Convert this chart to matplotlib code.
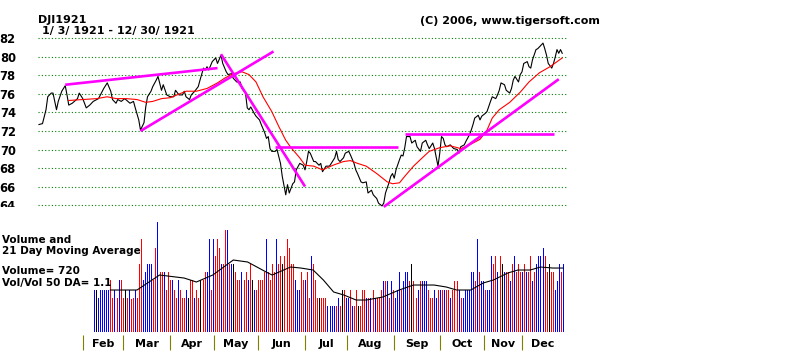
import matplotlib
matplotlib.use("Agg")
import matplotlib.pyplot as plt
from matplotlib.patches import Rectangle

# DJI 1921 daily close, sampled (trading day index, price)
days = [0, 2, 4, 5, 7, 8, 10, 11, 13, 15, 16, 17, 19, 22, 23, 25, 27, 29, 31, 34,
        37, 39, 41, 42, 44, 45, 47, 49, 52, 54, 55, 57, 58, 60, 61, 62, 64, 65, 67, 68,
        70, 71, 73, 75, 77, 78, 80, 82, 83, 84, 86, 87, 89, 91, 92, 94, 95, 96, 97, 99,
        101, 102, 104, 105, 107, 108, 110, 111, 113, 115, 116, 118, 119, 120, 121, 123, 124, 126, 127, 129,
        130, 131, 132, 133, 135, 136, 138, 139, 141, 142, 143, 145, 146, 147, 149, 151, 152, 153, 154, 155,
        157, 158, 160, 161, 162, 164, 166, 167, 169, 170, 171, 172, 174, 175, 177, 178, 180, 181, 182, 184,
        185, 187, 188, 190, 191, 193, 194, 196, 197, 198, 200, 201, 202, 203, 204, 206, 207, 208, 209, 210,
        212, 213, 215, 216, 218, 219, 221, 222, 223, 225, 226, 228, 229, 230, 231, 232, 233, 235, 237, 239,
        240, 241, 243, 244, 246, 247, 248, 249, 251, 252, 253, 255, 256, 258, 259, 261, 262, 263, 264, 266,
        267, 269, 270, 271, 272, 274, 275, 276, 277, 279, 280, 281, 282, 284, 285, 287, 288, 289, 290, 291,
        293, 294, 295, 296, 297, 298, 299]
price = [72.7, 72.8, 74.3, 75.7, 76.1, 76.1, 74.3, 75.2, 76.3, 76.9, 75.9, 74.8, 75.0, 75.5, 76.1, 75.5, 74.5, 74.8, 75.2, 75.5,
         76.6, 77.2, 76.3, 75.4, 75.0, 75.4, 75.2, 75.5, 75.0, 75.2, 74.5, 73.2, 72.1, 72.9, 74.6, 75.7, 76.3, 76.8, 77.5, 77.9,
         76.4, 77.0, 75.9, 75.7, 75.7, 76.4, 75.9, 75.9, 76.3, 75.7, 75.4, 75.9, 76.3, 76.8, 77.5, 78.8, 78.6, 78.95, 78.6, 79.5,
         79.9, 79.3, 80.2, 79.3, 78.4, 78.1, 78.2, 77.7, 77.3, 77.3, 76.6, 76.1, 74.5, 74.3, 74.6, 73.9, 73.6, 73.2, 72.7, 71.8,
         71.2, 71.4, 70.1, 69.8, 69.8, 70.0, 68.5, 67.1, 65.1, 66.2, 65.3, 66.3, 66.5, 67.8, 68.5, 68.3, 67.8, 68.7, 69.8, 69.6,
         68.7, 68.7, 68.3, 68.5, 67.6, 68.2, 68.2, 68.5, 69.1, 69.8, 68.9, 68.7, 69.1, 69.6, 69.8, 69.4, 68.5, 67.8, 67.4, 66.5,
         66.4, 66.5, 65.3, 65.6, 65.1, 64.7, 64.2, 63.9, 64.2, 65.3, 66.4, 67.1, 67.4, 66.9, 67.8, 68.9, 69.4, 69.3, 70.2, 71.4,
         71.4, 70.7, 71.0, 70.3, 69.8, 70.7, 71.0, 70.5, 70.1, 70.7, 70.1, 68.2, 69.6, 71.4, 71.2, 70.5, 70.3, 70.5, 70.1, 70.0,
         69.6, 70.3, 70.5, 70.9, 71.6, 72.1, 72.7, 73.4, 73.7, 73.2, 73.6, 73.9, 74.1, 75.2, 75.7, 75.5, 75.9, 76.4, 77.2, 77.0,
         76.4, 76.1, 76.6, 77.5, 77.9, 77.3, 78.1, 78.4, 79.3, 79.5, 78.95, 78.8, 79.7, 80.8, 80.9, 81.3, 81.5, 80.9, 80.2, 79.3,
         78.8, 79.3, 80.0, 80.8, 80.4, 80.8, 80.4]

# red moving average
ma_days = [17, 25, 33, 39, 44, 50, 56, 61, 65, 70, 75, 84, 90, 96, 102, 106, 111, 116, 120, 124,
           128, 133, 137, 141, 144, 149, 152, 157, 162, 168, 174, 178, 182, 187, 193, 199, 202, 206, 209, 214,
           219, 223, 229, 235, 241, 246, 252, 256, 259, 263, 269, 275, 280, 286, 292, 299]
ma_vals = [75.3, 75.4, 75.5, 75.7, 75.5, 75.5, 75.4, 75.1, 75.2, 75.5, 75.6, 76.3, 76.3, 76.6, 77.2, 77.7, 78.2, 78.4, 78.1, 77.3,
           75.7, 74.1, 72.5, 71.0, 70.2, 69.1, 68.3, 68.2, 67.8, 68.3, 68.7, 68.8, 68.5, 68.2, 67.4, 66.5, 66.3, 66.4, 67.1, 68.2,
           69.1, 69.8, 70.2, 70.4, 70.1, 70.5, 71.1, 72.1, 73.4, 74.3, 75.1, 76.2, 77.3, 78.3, 78.95, 79.9]

# magenta trend lines: (day0, price0, day1, price1)
trend_lines = [
    (15, 77.0, 102, 78.8),
    (58, 72.0, 134, 80.6),
    (104, 80.3, 152, 66.0),
    (135, 70.25, 205, 70.25),
    (209, 71.65, 294, 71.65),
    (197, 63.8, 297, 77.6),
]

price_ticks = [64, 66, 68, 70, 72, 74, 76, 78, 80, 82]

months = ["Feb", "Mar", "Apr", "May", "Jun", "Jul", "Aug", "Sep", "Oct", "Nov", "Dec"]
month_start = [25, 48, 75, 100, 125, 152, 176, 203, 229, 254, 276]
last_day = 300

# volume bars, rows of ten (b = up day, r = down day, k = unchanged)
vol_color = ("bkbbbbbbrr" "brbrrkrbrr" "brrrbbbbbr" "rbrrbrrrbr" "rbrrrbkrrb"
             "rrkrrbbrbr" "rrbrrbrbkr" "rrbrrbrkbr" "rrrrbrrrrb" "rrkrrrrrbb"
             "brrbrrbrrr" "krrrbbbbrb" "rkrbbrbrrk" "rrrbrbrbrr" "rbrbrbrbbb"
             "rbbbrkrrbr" "bbbrrrbbrb" "rbrrbrrrbr" "bbbbbbrbrb" "brbbbrrbrk"
             "brrbrbrrrb" "rbrrbrbbbb" "rrkrrbbbrb")
volume = [450, 445, 365, 450, 450, 450, 450, 450, 550, 365,
          450, 365, 550, 550, 365, 445, 365, 445, 345, 365,
          450, 365, 725, 990, 550, 640, 725, 725, 725, 550,
          890, 1170, 640, 640, 640, 445, 640, 550, 550, 445,
          365, 550, 445, 365, 365, 445, 365, 550, 550, 365,
          445, 365, 550, 550, 640, 640, 990, 445, 990, 805,
          990, 890, 725, 725, 1080, 1080, 725, 725, 725, 640,
          550, 550, 640, 550, 640, 550, 725, 550, 445, 445,
          550, 550, 550, 640, 990, 640, 550, 725, 640, 990,
          725, 805, 725, 805, 990, 890, 725, 725, 550, 450,
          450, 640, 550, 550, 640, 365, 805, 725, 550, 365,
          365, 365, 365, 365, 280, 280, 280, 280, 280, 365,
          280, 445, 445, 365, 365, 445, 280, 280, 445, 280,
          280, 445, 445, 365, 365, 365, 445, 365, 365, 365,
          445, 545, 545, 545, 365, 545, 445, 365, 445, 640,
          445, 545, 640, 640, 545, 725, 545, 365, 445, 545,
          545, 545, 545, 445, 365, 365, 445, 365, 445, 445,
          445, 445, 445, 445, 365, 445, 545, 545, 445, 365,
          365, 445, 445, 445, 640, 640, 545, 990, 640, 545,
          545, 445, 445, 445, 805, 725, 805, 640, 805, 725,
          640, 640, 640, 545, 725, 805, 640, 725, 640, 640,
          725, 640, 640, 805, 545, 640, 725, 805, 805, 890,
          805, 640, 720, 640, 640, 445, 545, 720, 640, 720]

# 21 day moving average of volume (bar index, value)
vma_idx = [8, 21, 32, 44, 50, 58, 68, 75, 85, 87, 96, 101, 107, 112, 117, 122, 128, 133, 141, 149,
           156, 166, 172, 177, 184, 190, 195, 202, 207, 213, 218, 224, 229]
vma_vals = [445, 445, 604, 572, 530, 604, 763, 742, 625, 604, 689, 678, 657, 551, 424, 392, 339, 339, 371, 445,
            498, 498, 477, 445, 445, 519, 551, 625, 657, 657, 689, 678, 678]

W, H = 800, 354
FONT = "DejaVu Sans"
fig = plt.figure(figsize=(W / 100, H / 100), dpi=100)
fig.patch.set_facecolor("white")


def px_axes(x0, y0, x1, y1):
    a = fig.add_axes([x0 / W, 1 - y1 / H, (x1 - x0) / W, (y1 - y0) / H])
    a.set_facecolor("none")
    for s in a.spines.values():
        s.set_visible(False)
    return a


def px_text(x, y, s, **kw):
    fig.text(x / W, 1 - y / H, s, family=FONT, fontweight="bold", va="center", **kw)


# price panel: px 38..568 horizontally, 30..215 vertically
day_px = 1.75
ax = px_axes(38, 30, 568, 215)
ax.set_xlim(-1 / day_px, (568 - 39) / day_px)
ax.set_ylim(64 - 10 / 9.26, 82 + 8.5 / 9.26)
for t in price_ticks:
    ax.axhline(t, color="#008000", lw=0.8, ls=(0, (1, 2)), zorder=1)
ax.set_xticks([])
ax.set_yticks(price_ticks)
ax.set_yticklabels([str(t) for t in price_ticks], family=FONT, fontweight="bold", fontsize=8.3)
ax.tick_params(axis="y", length=0, pad=16)
ax.plot(days, price, color="black", lw=0.8, zorder=3)
ax.plot(ma_days, ma_vals, color="red", lw=0.8, zorder=3)
for d0, p0, d1, p1 in trend_lines:
    ax.plot([d0, d1], [p0, p1], color="#ff00ff", lw=1.9, zorder=4, solid_capstyle="butt")

# the lowest price label is cut off by the volume panel in the original
fig.patches.append(Rectangle((0, 1 - 216 / H), 36 / W, 9 / H, transform=fig.transFigure,
                             facecolor="white", edgecolor="none", zorder=10))

# volume panel: px 38..568, 215..332
n = len(volume)
bar_px = (563 - 94) / (n - 1)
vx = px_axes(38, 215, 568, 332)
vx.set_xlim(-(94 - 38) / bar_px, (n - 1) + 5 / bar_px)
vx.set_ylim(0, 117 * 10.6)
vx.set_xticks([])
vx.set_yticks([])
cmap = {"b": "#0000ff", "r": "#ff0000", "k": "#000000"}
vx.vlines(range(n), 0, volume, colors=[cmap[c] for c in vol_color[:n]], lw=0.72,
          antialiased=False)
vx.plot(vma_idx, vma_vals, color="black", lw=0.8)

# month axis
mx = px_axes(38, 332, 568, 354)
mx.set_xlim(-1 / day_px, (568 - 39) / day_px)
mx.set_ylim(354, 332)
mx.set_xticks([])
mx.set_yticks([])
for m in month_start:
    mx.vlines(m, 335, 350, color="#808000", lw=0.8)
bounds = month_start + [last_day]
for k, name in enumerate(months):
    mx.text((bounds[k] + bounds[k + 1]) / 2, 344, name, ha="center", va="center",
            family=FONT, fontweight="bold", fontsize=8)

# header and volume captions
px_text(38, 20, "DJI1921", fontsize=8)
px_text(42, 31, "1/ 3/ 1921 - 12/ 30/ 1921", fontsize=8)
px_text(420, 21, "(C) 2006, www.tigersoft.com", fontsize=8)
px_text(2, 240, "Volume and", fontsize=7.5)
px_text(2, 251, "21 Day Moving Average", fontsize=7.5)
px_text(2, 271, "Volume= 720", fontsize=7.5)
px_text(2, 283, "Vol/Vol 50 DA= 1.1", fontsize=7.5)

fig.savefig("out.png", dpi=100, facecolor="white")
